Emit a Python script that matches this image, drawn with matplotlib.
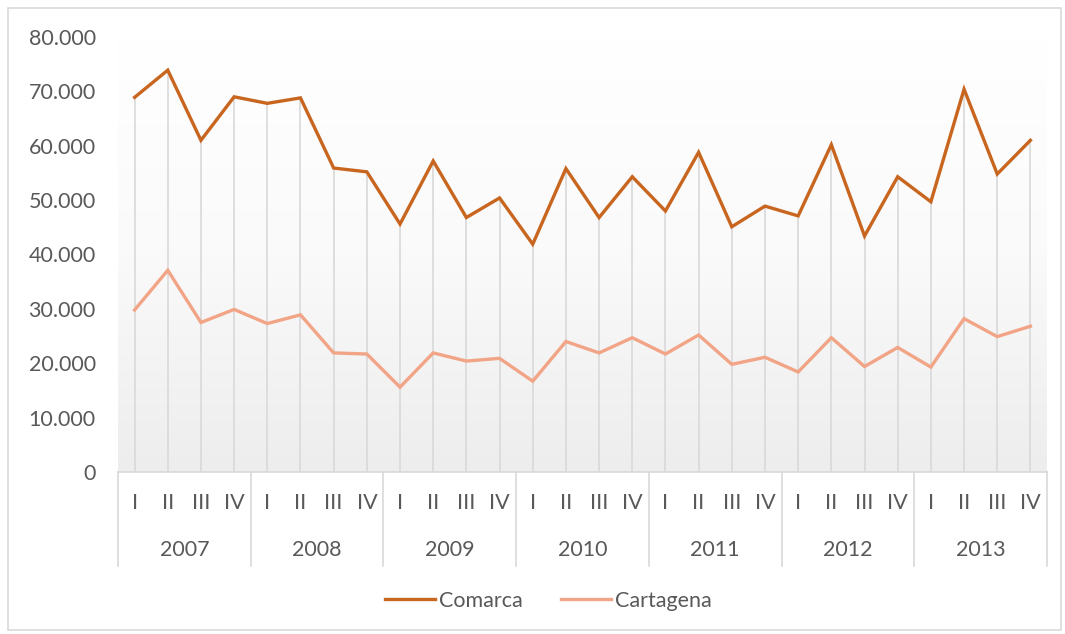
import numpy as np
import matplotlib
matplotlib.use("Agg")
import matplotlib.pyplot as plt
from matplotlib.patches import Rectangle
from matplotlib.ticker import FuncFormatter
from matplotlib.colors import LinearSegmentedColormap

years = ["2007", "2008", "2009", "2010", "2011", "2012", "2013"]
quarters = ["I", "II", "III", "IV"]

comarca = [68.9, 73.9, 61.0, 69.0,
           67.8, 68.8, 55.9, 55.2,
           45.6, 57.2, 46.8, 50.4,
           41.9, 55.8, 46.8, 54.3,
           48.0, 58.8, 45.1, 48.9,
           47.1, 60.2, 43.4, 54.3,
           49.7, 70.4, 54.8, 61.0]
cartagena = [29.8, 37.1, 27.5, 29.9,
             27.3, 28.9, 21.9, 21.7,
             15.6, 21.9, 20.4, 20.9,
             16.7, 24.0, 21.9, 24.7,
             21.7, 25.2, 19.8, 21.1,
             18.4, 24.7, 19.4, 22.9,
             19.3, 28.2, 24.9, 26.8]

comarca = np.array(comarca) * 1000
cartagena = np.array(cartagena) * 1000

C_COMARCA = "#c8651f"
C_CARTAGENA = "#f2a486"
TXT = "#595959"
GRID = "#d9d9d9"
FS = 15.5

plt.rcParams["font.family"] = ["Lato", "DejaVu Sans"]

W, H = 1065, 634
fig = plt.figure(figsize=(W / 100, H / 100), dpi=100)
fig.patches.append(Rectangle((8 / W, 4 / H), (W - 12) / W, (H - 12) / H,
                             transform=fig.transFigure, fill=False,
                             edgecolor=GRID, lw=1.2))

left, right, top, bottom = 118, 1047, 37, 472
ax = fig.add_axes([left / W, 1 - bottom / H, (right - left) / W, (bottom - top) / H])

n = len(comarca)
x = np.arange(n)
ax.set_xlim(-0.5, n - 0.5)
ax.set_ylim(0, 80000)

# gradient background like the excel plot area
cmap = LinearSegmentedColormap.from_list("bg", ["#ffffff", "#fafafa", "#ededed"])
grad = np.linspace(0, 1, 256).reshape(-1, 1)
ax.imshow(grad, extent=(-0.5, n - 0.5, 0, 80000), aspect="auto",
          cmap=cmap, vmin=0, vmax=1, zorder=0, origin="upper")

# drop lines
ax.vlines(x, 0, np.maximum(comarca, cartagena), color=GRID, lw=1.2, zorder=1)

ax.plot(x, comarca, color=C_COMARCA, lw=2.4, zorder=3, label="Comarca",
        solid_joinstyle="miter")
ax.plot(x, cartagena, color=C_CARTAGENA, lw=2.4, zorder=3, label="Cartagena",
        solid_joinstyle="miter")

for s in ["top", "right", "left"]:
    ax.spines[s].set_visible(False)
ax.spines["bottom"].set_color(GRID)
ax.spines["bottom"].set_linewidth(1.2)

ax.set_yticks(np.arange(0, 80001, 10000))
ax.yaxis.set_major_formatter(FuncFormatter(lambda v, p: f"{int(v):,}".replace(",", ".")))
ax.tick_params(axis="y", length=0, pad=16, labelsize=FS, labelcolor=TXT)
ax.set_xticks([])

# two-level category axis
trans = ax.get_xaxis_transform()
axh = bottom - top
for i in range(n):
    ax.text(x[i], -31 / axh, quarters[i % 4], transform=trans, ha="center",
            va="center", fontsize=FS, color=TXT)
for k, yr in enumerate(years):
    ax.text(4 * k + 1.5, -78 / axh, yr, transform=trans, ha="center",
            va="center", fontsize=FS, color=TXT)
for k in range(len(years) + 1):
    ax.plot([4 * k - 0.5] * 2, [0, -94 / axh], transform=trans, color=GRID,
            lw=1.2, clip_on=False)

fig.legend(loc="center", bbox_to_anchor=(0.515, 1 - 601 / H), ncol=2, frameon=False,
           fontsize=FS, labelcolor=TXT, handlelength=2.3, handletextpad=0.2,
           columnspacing=1.8)

fig.savefig("out.png", dpi=100, facecolor="white")
